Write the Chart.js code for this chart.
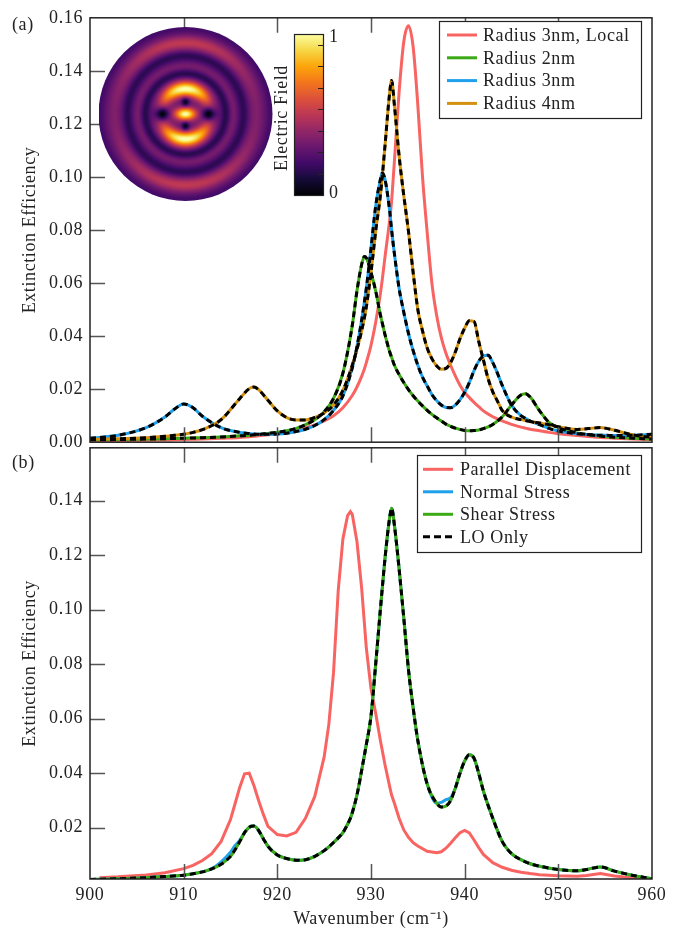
<!DOCTYPE html>
<html>
<head>
<meta charset="utf-8">
<script src="https://cdn.jsdelivr.net/npm/chart.js@4.4.0/dist/chart.umd.min.js"></script>
<style>
  body { margin: 0; background: #fff; }
  #wrap { position: relative; width: 689px; height: 931px; font-family: 'Liberation Serif', serif; color: #222; }
  canvas { position: absolute; left: 0; }
  .tag { position: absolute; left: 12px; font-size: 18px; line-height: 20px; letter-spacing: 0.6px; }
</style>
</head>
<body>
<div id="wrap">
  <canvas id="chartA" width="689" height="460" style="top:0"></canvas>
  <canvas id="chartB" width="689" height="501" style="top:430px"></canvas>
  <div class="tag" style="top:14px">(a)</div>
  <div class="tag" style="top:452px">(b)</div>
</div>
<script>
// ---- data, panel (a) ----
const gridA = [900, 903, 906, 908, 909, 910, 911, 912, 914, 916, 917, 917.5, 918, 919, 920, 921, 922, 923, 924, 925,
  926, 927, 928, 928.5, 929, 929.3, 929.5, 930, 930.5, 931, 931.2, 931.5, 932, 932.2, 932.5, 933, 933.5, 934, 934.5, 935,
  935.5, 936, 936.5, 937, 937.5, 938, 938.5, 939, 939.5, 940, 940.5, 941, 941.5, 942, 942.5, 943, 943.5, 944, 945, 946,
  946.5, 947, 948, 949, 950, 952, 954, 954.5, 955, 956, 958, 960]

const localA = [0.0005, 0.0006, 0.0007, 0.0008, 0.0009, 0.0010, 0.0011, 0.0012, 0.0015, 0.0018,
  0.0021, 0.0022, 0.0024, 0.0028, 0.0032, 0.0037, 0.0044, 0.0054, 0.0065, 0.0080,
  0.0100, 0.0130, 0.0176, 0.0208, 0.0248, 0.0277, 0.0300, 0.0365, 0.0452, 0.0560,
  0.0612, 0.0700, 0.0840, 0.0910, 0.1060, 0.1320, 0.1510, 0.1570, 0.1490, 0.1270,
  0.1000, 0.0790, 0.0600, 0.0480, 0.0395, 0.0335, 0.0290, 0.0250, 0.0215, 0.0188,
  0.0168, 0.0150, 0.0134, 0.0118, 0.0106, 0.0096, 0.0088, 0.0080, 0.0067, 0.0057,
  0.0053, 0.0049, 0.0043, 0.0037, 0.0032, 0.0025, 0.0019, 0.0018, 0.0017, 0.0015, 0.0012, 0.0010]

const radius2A = [0.0009, 0.0010, 0.0012, 0.0013, 0.0014, 0.0015, 0.0016, 0.0017, 0.0020, 0.0024,
  0.0026, 0.0028, 0.0029, 0.0033, 0.0037, 0.0043, 0.0052, 0.0066, 0.0085, 0.0115,
  0.0165, 0.0260, 0.0440, 0.0570, 0.0670, 0.0700, 0.0695, 0.0640, 0.0570, 0.0480,
  0.0450, 0.0405, 0.0340, 0.0320, 0.0290, 0.0255, 0.0225, 0.0198, 0.0175, 0.0155,
  0.0137, 0.0120, 0.0105, 0.0092, 0.0080, 0.0068, 0.0060, 0.0053, 0.0048, 0.0044,
  0.0043, 0.0044, 0.0046, 0.0051, 0.0058, 0.0067, 0.0080, 0.0095, 0.0140, 0.0178,
  0.0183, 0.0170, 0.0118, 0.0075, 0.0055, 0.0035, 0.0025, 0.0023, 0.0021, 0.0019, 0.0015, 0.0012]

const radius3A = [0.0015, 0.0026, 0.0055, 0.0095, 0.0124, 0.0144, 0.0130, 0.0098, 0.0055, 0.0037,
  0.0033, 0.0031, 0.0030, 0.0030, 0.0031, 0.0034, 0.0040, 0.0049, 0.0063, 0.0085,
  0.0120, 0.0175, 0.0280, 0.0360, 0.0460, 0.0530, 0.0580, 0.0730, 0.0890, 0.0990,
  0.1015, 0.0990, 0.0870, 0.0800, 0.0710, 0.0580, 0.0490, 0.0410, 0.0345, 0.0290,
  0.0245, 0.0212, 0.0180, 0.0157, 0.0140, 0.0131, 0.0130, 0.0140, 0.0160, 0.0188,
  0.0225, 0.0270, 0.0305, 0.0325, 0.0328, 0.0300, 0.0260, 0.0215, 0.0140, 0.0100,
  0.0090, 0.0080, 0.0066, 0.0052, 0.0042, 0.0032, 0.0027, 0.0026, 0.0026, 0.0025, 0.0026, 0.0030]

const radius4A = [0.0011, 0.0013, 0.0017, 0.0022, 0.0026, 0.0030, 0.0037, 0.0047, 0.0085, 0.0165,
  0.0202, 0.0208, 0.0198, 0.0158, 0.0118, 0.0093, 0.0084, 0.0084, 0.0093, 0.0110,
  0.0140, 0.0195, 0.0290, 0.0350, 0.0420, 0.0470, 0.0510, 0.0640, 0.0795, 0.0930,
  0.1000, 0.1120, 0.1320, 0.1364, 0.1270, 0.1080, 0.0930, 0.0795, 0.0640, 0.0500,
  0.0420, 0.0355, 0.0315, 0.0288, 0.0275, 0.0278, 0.0300, 0.0340, 0.0390, 0.0430,
  0.0458, 0.0455, 0.0380, 0.0310, 0.0240, 0.0190, 0.0155, 0.0120, 0.0095, 0.0085,
  0.0082, 0.0078, 0.0072, 0.0066, 0.0058, 0.0048, 0.0054, 0.0055, 0.0053, 0.0045, 0.0027, 0.0018]

// ---- data, panel (b) ----
const gridB = [900, 901, 903, 906, 908, 910, 911, 912, 913, 914, 915, 915.5, 916, 916.5, 917, 917.5, 918, 918.5, 919, 920,
  921, 922, 923, 924, 925, 925.5, 926, 926.5, 927, 927.5, 927.8, 928, 928.5, 929, 929.5, 930, 930.5, 931, 931.5, 932,
  932.2, 932.5, 933, 933.5, 934, 934.5, 935, 936, 937, 937.5, 938, 938.5, 939, 939.5, 940, 940.5, 941, 941.5, 942, 943,
  944, 945, 946, 947, 948, 950, 952, 953, 954.5, 956, 958, 960]

const parallelB = [null, 0.0017, 0.0020, 0.0027, 0.0035, 0.0050, 0.0062, 0.0080, 0.0105, 0.0150,
  0.0230, 0.0290, 0.0350, 0.0398, 0.0400, 0.0355, 0.0300, 0.0250, 0.0205, 0.0175,
  0.0170, 0.0183, 0.0235, 0.0315, 0.0460, 0.0580, 0.0770, 0.1070, 0.1260, 0.1345,
  0.1360, 0.1350, 0.1250, 0.1080, 0.0860, 0.0710, 0.0620, 0.0520, 0.0430, 0.0350,
  0.0320, 0.0290, 0.0235, 0.0192, 0.0165, 0.0145, 0.0133, 0.0114, 0.0108, 0.0112,
  0.0125, 0.0143, 0.0163, 0.0182, 0.0190, 0.0181, 0.0155, 0.0127, 0.0102, 0.0072,
  0.0055, 0.0044, 0.0037, 0.0032, 0.0028, 0.0024, 0.0022, 0.0025, 0.0032, 0.0023, 0.0016, 0.0010]

const normalB = [0.0010, 0.0011, 0.0013, 0.0017, 0.0021, 0.0026, 0.0031, 0.0038, 0.0050, 0.0075,
  0.0110, 0.0135, 0.0155, 0.0182, 0.0202, 0.0206, 0.0190, 0.0160, 0.0132, 0.0100,
  0.0087, 0.0081, 0.0083, 0.0095, 0.0116, 0.0130, 0.0146, 0.0163, 0.0182, 0.0213,
  0.0235, 0.0255, 0.0320, 0.0410, 0.0505, 0.0610, 0.0800, 0.1000, 0.1190, 0.1340,
  0.1372, 0.1310, 0.1150, 0.0970, 0.0780, 0.0640, 0.0520, 0.0360, 0.0290, 0.0293,
  0.0303, 0.0310, 0.0345, 0.0400, 0.0445, 0.0468, 0.0455, 0.0400, 0.0335, 0.0235,
  0.0150, 0.0105, 0.0083, 0.0068, 0.0059, 0.0047, 0.0042, 0.0047, 0.0056, 0.0041, 0.0025, 0.0013]

const shearB = [0.0010, 0.0011, 0.0013, 0.0017, 0.0021, 0.0026, 0.0031, 0.0038, 0.0049, 0.0066,
  0.0095, 0.0120, 0.0150, 0.0182, 0.0202, 0.0206, 0.0190, 0.0160, 0.0132, 0.0100,
  0.0087, 0.0081, 0.0083, 0.0095, 0.0116, 0.0130, 0.0146, 0.0163, 0.0182, 0.0213,
  0.0235, 0.0255, 0.0320, 0.0410, 0.0505, 0.0610, 0.0800, 0.1000, 0.1190, 0.1340,
  0.1372, 0.1310, 0.1150, 0.0970, 0.0780, 0.0640, 0.0520, 0.0360, 0.0290, 0.0276,
  0.0280, 0.0300, 0.0345, 0.0400, 0.0445, 0.0468, 0.0455, 0.0400, 0.0335, 0.0235,
  0.0150, 0.0105, 0.0083, 0.0068, 0.0059, 0.0047, 0.0042, 0.0047, 0.0056, 0.0041, 0.0025, 0.0013]

const loOnlyB = [0.0010, 0.0011, 0.0013, 0.0017, 0.0021, 0.0026, 0.0031, 0.0038, 0.0049, 0.0066,
  0.0095, 0.0120, 0.0150, 0.0182, 0.0202, 0.0206, 0.0190, 0.0160, 0.0132, 0.0100,
  0.0087, 0.0081, 0.0083, 0.0095, 0.0116, 0.0130, 0.0146, 0.0163, 0.0182, 0.0213,
  0.0235, 0.0255, 0.0320, 0.0410, 0.0505, 0.0610, 0.0800, 0.1000, 0.1190, 0.1340,
  0.1372, 0.1310, 0.1150, 0.0970, 0.0780, 0.0640, 0.0520, 0.0360, 0.0290, 0.0276,
  0.0280, 0.0300, 0.0345, 0.0400, 0.0445, 0.0468, 0.0455, 0.0400, 0.0335, 0.0235,
  0.0150, 0.0105, 0.0083, 0.0068, 0.0059, 0.0047, 0.0042, 0.0047, 0.0056, 0.0041, 0.0025, 0.0013]

// ---- ticks, labels ----
const xTicks = [900, 910, 920, 930, 940, 950, 960]
const yTicksA = [0, 0.02, 0.04, 0.06, 0.08, 0.10, 0.12, 0.14, 0.16]
const yTicksB = [0.02, 0.04, 0.06, 0.08, 0.10, 0.12, 0.14]
const labelsA = ['Radius 3nm, Local', 'Radius 2nm', 'Radius 3nm', 'Radius 4nm']
const labelsB = ['Parallel Displacement', 'Normal Stress', 'Shear Stress', 'LO Only']

const RED = '#f86462'
const GREEN = '#3caa16'
const BLUE = '#1ea0ea'
const ORANGE = '#d3910f'
const FONT = "'Liberation Serif', 'Times New Roman', serif"
const SPACING = '0.6px'

Chart.defaults.font.family = FONT
Chart.defaults.font.size = 18
Chart.defaults.color = '#222'

const pts = (grid, ys) => grid.map((x, i) => ({ x, y: ys[i] }))

const line = (label, grid, ys, color, order, dashed) => ({
  label,
  data: pts(grid, ys),
  borderColor: color,
  borderWidth: 3,
  borderDash: dashed ? [6, 4] : [],
  pointRadius: 0,
  fill: false,
  cubicInterpolationMode: 'monotone',
  order,
})

// wider lettering, closer to the LaTeX look
const spacing = {
  id: 'spacing',
  beforeDraw(chart) {
    chart.ctx.letterSpacing = SPACING
  },
}

// inward ticks + frame
const frameTicks = yTicks => ({
  id: 'frameTicks',
  afterDatasetsDraw(chart) {
    const { ctx, chartArea: a, scales } = chart
    ctx.save()
    ctx.strokeStyle = '#555'
    ctx.lineWidth = 1.5
    ctx.beginPath()
    xTicks.slice(1, -1).forEach(v => {
      const px = Math.round(scales.x.getPixelForValue(v)) + 0.5
      ctx.moveTo(px, a.top)
      ctx.lineTo(px, a.top + 15)
      ctx.moveTo(px, a.bottom)
      ctx.lineTo(px, a.bottom - 15)
    })
    yTicks.forEach(v => {
      const py = Math.round(scales.y.getPixelForValue(v)) + 0.5
      ctx.moveTo(a.left, py)
      ctx.lineTo(a.left + 15, py)
    })
    ctx.stroke()
    ctx.strokeStyle = '#222'
    ctx.strokeRect(a.left, a.top, a.right - a.left, a.bottom - a.top)
    ctx.restore()
  },
})

const boxLegend = (labels, colors, dashed, box) => ({
  id: 'boxLegend',
  afterDraw(chart) {
    const ctx = chart.ctx
    ctx.save()
    ctx.letterSpacing = SPACING
    ctx.fillStyle = '#fff'
    ctx.fillRect(box.left, box.top, box.width, box.height)
    ctx.strokeStyle = '#222'
    ctx.lineWidth = 1.2
    ctx.strokeRect(box.left + 0.5, box.top + 0.5, box.width, box.height)
    ctx.font = '18px ' + FONT
    ctx.textBaseline = 'middle'
    labels.forEach((label, i) => {
      const y = box.top + box.first + i * box.row
      ctx.strokeStyle = colors[i]
      ctx.lineWidth = 3
      ctx.setLineDash(dashed[i] ? [7, 4] : [])
      ctx.beginPath()
      ctx.moveTo(box.left + box.sx, y)
      ctx.lineTo(box.left + box.sx + 30, y)
      ctx.stroke()
      ctx.fillStyle = '#222'
      ctx.fillText(label, box.left + box.tx, y + 1)
    })
    ctx.restore()
  },
})

// inset: field map + colour bar
const infernoStops = [[0, 0, 4], [22, 11, 57], [66, 10, 104], [106, 23, 110], [147, 38, 103], [188, 55, 84],
  [221, 81, 58], [243, 118, 27], [252, 165, 10], [246, 215, 70], [252, 255, 164]]
const inferno = t => {
  t = Math.min(1, Math.max(0, t)) * 10
  const i = Math.min(9, Math.floor(t))
  const f = t - i
  const a = infernoStops[i]
  const b = infernoStops[i + 1]
  return [0, 1, 2].map(k => Math.round(a[k] + (b[k] - a[k]) * f))
}

const fieldImage = R => {
  const size = 2 * R
  const c = document.createElement('canvas')
  c.width = c.height = size
  const g = c.getContext('2d')
  const img = g.createImageData(size, size)
  for (let j = 0; j < size; j++) {
    for (let i = 0; i < size; i++) {
      const dx = i + 0.5 - R
      const dy = j + 0.5 - R
      const r = Math.hypot(dx, dy)
      const c2 = r > 0 ? (dy / r) ** 2 : 1
      let v = 0.27
      v += 0.24 * Math.exp(-(((r - 71) / 7) ** 2)) * (0.35 + 0.65 * c2)
      v += 0.06 * Math.exp(-(((r - 48) / 4) ** 2))
      v *= 1 - 0.45 * Math.exp(-(((r - 58) / 4.5) ** 2))
      v *= 1 - 0.5 * Math.exp(-(((r - 40) / 4) ** 2))
      v += 0.74 * Math.exp(-(((r - 25) / 7.5) ** 2)) * c2 ** 0.6
      v += 0.74 * Math.exp(-(dx * dx / 120 + dy * dy / 40))
      v *= 1 - 0.95 * Math.exp(-(((Math.abs(dx) - 23) ** 2 + dy * dy) / 30))
      v *= 1 - 0.9 * Math.exp(-((dx * dx + (Math.abs(dy) - 12) ** 2) / 14))
      v *= 1 - 0.25 * Math.exp(-(((r - 86) / 5) ** 2))
      const [cr, cg, cb] = inferno(v)
      const k = (j * size + i) * 4
      img.data[k] = cr
      img.data[k + 1] = cg
      img.data[k + 2] = cb
      img.data[k + 3] = 255
    }
  }
  g.putImageData(img, 0, 0)
  return c
}

const inset = {
  id: 'inset',
  afterDraw(chart) {
    const ctx = chart.ctx
    const cx = 185.5
    const cy = 114
    const R = 87
    ctx.save()
    ctx.beginPath()
    ctx.arc(cx, cy, R, 0, Math.PI * 2)
    ctx.clip()
    ctx.drawImage(fieldImage(R), cx - R, cy - R)
    ctx.restore()

    // colour bar
    const bx = 294
    const by = 34
    const bw = 29
    const bh = 161
    const grad = ctx.createLinearGradient(0, by + bh, 0, by)
    for (let s = 0; s <= 20; s++) {
      const [r, g, b] = inferno(s / 20)
      grad.addColorStop(s / 20, `rgb(${r},${g},${b})`)
    }
    ctx.save()
    ctx.letterSpacing = SPACING
    ctx.fillStyle = grad
    ctx.fillRect(bx, by, bw, bh)
    ctx.strokeStyle = '#222'
    ctx.lineWidth = 1.2
    ctx.strokeRect(bx + 0.5, by + 0.5, bw, bh)
    ctx.beginPath()
    for (let k = 1; k <= 7; k++) {
      const y = Math.round(by + bh - k * 21.5) + 0.5
      ctx.moveTo(bx + bw, y)
      ctx.lineTo(bx + bw - 5, y)
    }
    ctx.stroke()
    ctx.fillStyle = '#222'
    ctx.font = '18px ' + FONT
    ctx.textBaseline = 'middle'
    ctx.fillText('1', bx + bw + 6, by + 3)
    ctx.fillText('0', bx + bw + 6, by + bh - 2)
    ctx.translate(282, 118)
    ctx.rotate(-Math.PI / 2)
    ctx.textAlign = 'center'
    ctx.fillText('Electric Field', 0, 0)
    ctx.restore()
  },
}

const yTitle = {
  display: true,
  text: 'Extinction Efficiency',
  font: { size: 18 },
  padding: { top: 19, bottom: 0 },
}

// ---- panel (a) ----
new Chart(document.getElementById('chartA'), {
  type: 'line',
  data: {
    datasets: [
      line(labelsA[0], gridA, localA, RED, 7),
      line(labelsA[1], gridA, radius2A, GREEN, 6),
      line(labelsA[2], gridA, radius3A, BLUE, 5),
      line(labelsA[3], gridA, radius4A, ORANGE, 4),
      line('', gridA, radius2A, '#000', 3, true),
      line('', gridA, radius3A, '#000', 2, true),
      line('', gridA, radius4A, '#000', 1, true),
    ],
  },
  options: {
    responsive: false,
    devicePixelRatio: 1,
    animation: false,
    events: [],
    layout: { padding: { left: 0, right: 37, top: 12, bottom: 15 } },
    plugins: { legend: { display: false }, tooltip: { enabled: false } },
    scales: {
      x: { type: 'linear', min: 900, max: 960, display: false },
      y: {
        min: 0,
        max: 0.16,
        afterFit: s => { s.width = 90 },
        afterBuildTicks: s => { s.ticks = yTicksA.map(value => ({ value })) },
        grid: { display: false, drawTicks: false },
        border: { display: false },
        ticks: { padding: 7, callback: v => v.toFixed(2) },
        title: yTitle,
      },
    },
  },
  plugins: [spacing, frameTicks(yTicksA.slice(1, -1)), inset,
    boxLegend(labelsA, [RED, GREEN, BLUE, ORANGE], [false, false, false, false],
      { left: 439, top: 21, width: 202, height: 97, first: 14, row: 22.8, sx: 8, tx: 44 })],
})

// ---- panel (b) ----
new Chart(document.getElementById('chartB'), {
  type: 'line',
  data: {
    datasets: [
      { ...line(labelsB[0], gridB, parallelB, RED, 4), cubicInterpolationMode: 'default', tension: 0 },
      line(labelsB[1], gridB, normalB, BLUE, 3),
      line(labelsB[2], gridB, shearB, GREEN, 2),
      line(labelsB[3], gridB, loOnlyB, '#000', 1, true),
    ],
  },
  options: {
    responsive: false,
    devicePixelRatio: 1,
    animation: false,
    events: [],
    layout: { padding: { left: 0, right: 37, top: 15, bottom: 0 } },
    plugins: { legend: { display: false }, tooltip: { enabled: false } },
    scales: {
      x: {
        type: 'linear',
        min: 900,
        max: 960,
        afterFit: s => { s.height = 52 },
        afterBuildTicks: s => { s.ticks = xTicks.map(value => ({ value })) },
        grid: { display: false, drawTicks: false },
        border: { display: false },
        ticks: { padding: 5, maxRotation: 0, callback: v => String(v) },
        title: { display: true, text: 'Wavenumber (cm\u207B\u00B9)', font: { size: 18 }, padding: { top: 0, bottom: 1 } },
      },
      y: {
        min: 0.0012,
        max: 0.1594,
        afterFit: s => { s.width = 90 },
        afterBuildTicks: s => { s.ticks = yTicksB.map(value => ({ value })) },
        grid: { display: false, drawTicks: false },
        border: { display: false },
        ticks: { padding: 7, callback: v => v.toFixed(2) },
        title: yTitle,
      },
    },
  },
  plugins: [spacing, frameTicks(yTicksB),
    boxLegend(labelsB, [RED, BLUE, GREEN, '#000'], [false, false, false, true],
      { left: 417, top: 25, width: 224, height: 97, first: 14.3, row: 22.5, sx: 6, tx: 43 })],
})
</script>
</body>
</html>
